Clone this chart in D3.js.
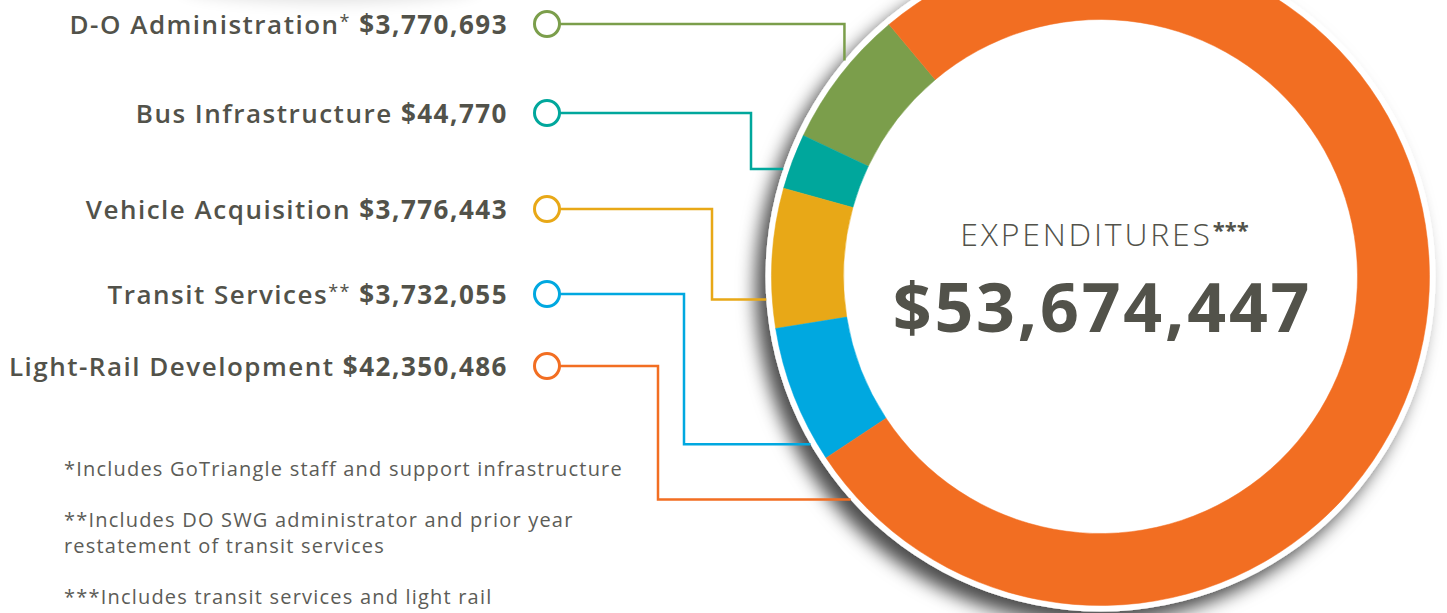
<!DOCTYPE html>
<html>
<head>
<meta charset="utf-8">
<script src="https://cdn.jsdelivr.net/npm/d3@7"></script>
<style>
	body { margin: 0; background: #fff; overflow: hidden; }
	svg { display: block; }
</style>
</head>
<body>
<div id="vis"></div>
<script>
// Expenditure categories, in the order of the labels (top to bottom)
var categories = ['D-O Administration', 'Bus Infrastructure', 'Vehicle Acquisition', 'Transit Services', 'Light-Rail Development'];
var footMarks = ['*', '', '', '**', ''];
var amounts = [3770693, 44770, 3776443, 3732055, 42350486];
var colors = ['#7b9e4b', '#00a79c', '#e8a817', '#00a8e0', '#f26e22'];

var centerTitle = 'EXPENDITURES';
var centerMark = '***';

var footnotes = [
	['*Includes GoTriangle staff and support infrastructure'],
	['**Includes DO SWG administrator and prior year', 'restatement of transit services'],
	['***Includes transit services and light rail']
];

// layout
var width = 1447, height = 613;
var cx = 1100.5, cy = 276.5;
var innerR = 257, outerR = 329, rimR = 335;
var startDeg = -40;
var minShare = 0.028; // tiny slices still get a visible wedge
var labelY = [24, 113, 209, 294, 366];
var labelRight = 508;
var markerX = 547, markerR = 12.5;
var elbowX = [null, 751, 712, 684, 658];
var anchor = [0.4, 0.68, 0.79, 0.86, 0.03];
var textColor = '#52524a';

$ready();

function $ready() {
	var svg = d3.select('#vis')
		.append('svg')
		.attr('width', width)
		.attr('height', height);

	var defs = svg.append('defs');
	var filter = defs.append('filter')
		.attr('id', 'shadow')
		.attr('x', '-30%').attr('y', '-30%')
		.attr('width', '160%').attr('height', '160%');
	filter.append('feDropShadow')
		.attr('dx', -10)
		.attr('dy', 12)
		.attr('stdDeviation', 9)
		.attr('flood-color', '#000')
		.attr('flood-opacity', 0.7);

	// faint shadow of the shape above the picture
	var blur = defs.append('filter').attr('id', 'blur')
		.attr('x', '-50%').attr('y', '-50%').attr('width', '200%').attr('height', '200%');
	blur.append('feGaussianBlur').attr('stdDeviation', 8);
	svg.append('ellipse')
		.attr('cx', 330).attr('cy', -14)
		.attr('rx', 150).attr('ry', 16)
		.attr('fill', '#000')
		.attr('opacity', 0.12)
		.attr('filter', 'url(#blur)');

	var total = d3.sum(amounts);
	var data = categories.map(function(c, i) {
		return {name: c, mark: footMarks[i], value: amounts[i], color: colors[i], i: i};
	});

	var pie = d3.pie()
		.sort(null)
		.value(function(d) { return Math.max(d.value, total * minShare); })
		.startAngle(startDeg * Math.PI / 180)
		.endAngle((startDeg - 360) * Math.PI / 180);
	var slices = pie(data);

	// white rim with its shadow
	svg.append('circle')
		.attr('cx', cx).attr('cy', cy)
		.attr('r', rimR)
		.attr('fill', '#fff')
		.attr('filter', 'url(#shadow)');

	drawLeaders(svg, slices);

	var arc = d3.arc().innerRadius(innerR).outerRadius(outerR);
	svg.append('g')
		.attr('transform', 'translate(' + cx + ',' + cy + ')')
		.selectAll('path')
		.data(slices)
		.enter()
		.append('path')
		.attr('d', arc)
		.attr('fill', function(d) { return d.data.color; })
		.attr('stroke', function(d) { return d.data.color; })
		.attr('stroke-width', 0.5);

	drawLabels(svg, data);
	drawCenter(svg, total);
	drawFootnotes(svg);
}

// Connector lines from the label markers to the ring
function drawLeaders(svg, slices) {
	var line = d3.line();
	svg.append('g')
		.selectAll('path')
		.data(slices)
		.enter()
		.append('path')
		.attr('d', function(p) {
			var i = p.data.i;
			var a = p.startAngle + anchor[i] * (p.endAngle - p.startAngle);
			var ax = cx + rimR * Math.sin(a);
			var ay = cy - rimR * Math.cos(a);
			var y0 = labelY[i];
			var pts = [[markerX + markerR, y0]];
			if (elbowX[i] === null) {
				pts.push([ax, y0], [ax, ay]);
			} else {
				pts.push([elbowX[i], y0], [elbowX[i], ay], [ax, ay]);
			}
			return line(pts);
		})
		.attr('fill', 'none')
		.attr('stroke', function(p) { return p.data.color; })
		.attr('stroke-width', 2.5);
}

function drawLabels(svg, data) {
	var g = svg.append('g')
		.selectAll('g')
		.data(data)
		.enter()
		.append('g')
		.attr('transform', function(d) { return 'translate(0,' + labelY[d.i] + ')'; });

	g.append('circle')
		.attr('cx', markerX)
		.attr('r', markerR)
		.attr('fill', '#fff')
		.attr('stroke', function(d) { return d.color; })
		.attr('stroke-width', 3);

	var t = g.append('text')
		.attr('x', labelRight)
		.attr('y', 10)
		.attr('text-anchor', 'end')
		.attr('font-family', '"Open Sans", sans-serif')
		.attr('font-size', 26)
		.attr('letter-spacing', 1.5)
		.attr('fill', textColor);
	t.append('tspan')
		.attr('font-weight', 600)
		.text(function(d) { return d.name; });
	t.append('tspan')
		.attr('font-weight', 400)
		.attr('font-size', 18)
		.attr('dy', -6)
		.text(function(d) { return d.mark; });
	t.append('tspan')
		.attr('font-weight', 700)
		.attr('dy', function(d) { return d.mark ? 6 : 0; })
		.text(function(d) { return ' ' + d3.format('$,')(d.value); });
}

function drawCenter(svg, total) {
	var t = svg.append('text')
		.attr('x', cx + 4)
		.attr('y', 246)
		.attr('text-anchor', 'middle')
		.attr('font-family', '"Open Sans", sans-serif')
		.attr('font-size', 32)
		.attr('font-weight', 300)
		.attr('letter-spacing', 2.8)
		.attr('fill', textColor);
	t.append('tspan').text(centerTitle);
	t.append('tspan')
		.attr('font-size', 22)
		.attr('font-weight', 700)
		.attr('letter-spacing', 0)
		.attr('dy', -8)
		.text(centerMark);

	svg.append('text')
		.attr('x', cx + 2)
		.attr('y', 332)
		.attr('text-anchor', 'middle')
		.attr('font-family', '"Open Sans", sans-serif')
		.attr('font-size', 68)
		.attr('font-weight', 700)
		.attr('letter-spacing', 2.8)
		.attr('fill', textColor)
		.text(d3.format('$,')(total));
}

function drawFootnotes(svg) {
	var baseY = [476, 527, 604];
	var g = svg.append('g');
	footnotes.forEach(function(lines, i) {
		lines.forEach(function(s, j) {
			g.append('text')
				.attr('x', 64)
				.attr('y', baseY[i] + j * 26)
				.attr('font-family', '"Open Sans", sans-serif')
				.attr('font-size', 20)
				.attr('font-weight', 400)
				.attr('letter-spacing', 1.2)
				.attr('fill', '#5c5c57')
				.text(s);
		});
	});
}
</script>
</body>
</html>
